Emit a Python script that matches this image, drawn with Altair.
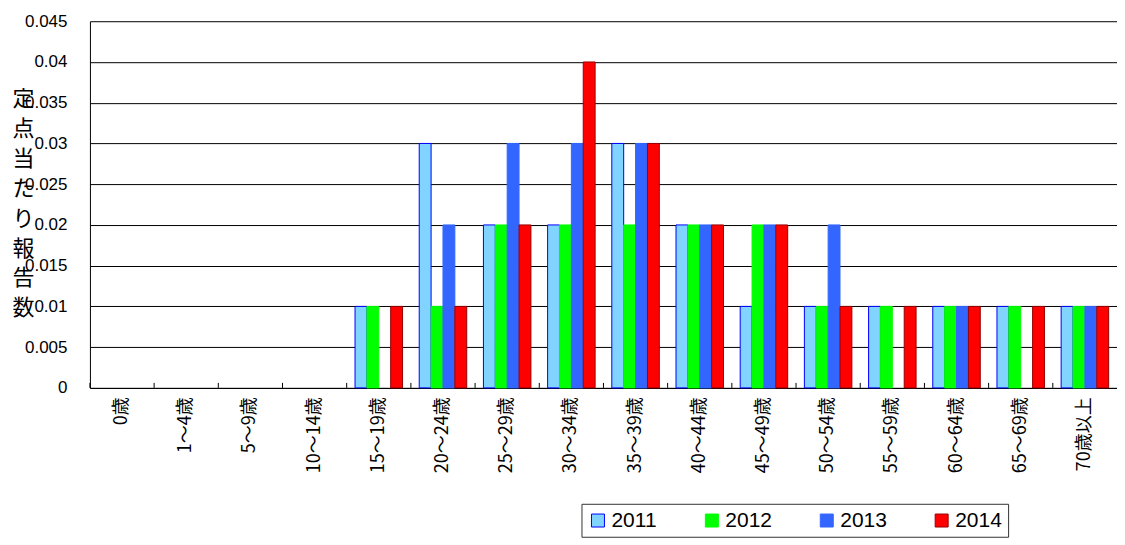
import altair as alt
import pandas as pd

ages = ["0歳", "1～4歳", "5～9歳", "10～14歳", "15～19歳", "20～24歳", "25～29歳", "30～34歳",
        "35～39歳", "40～44歳", "45～49歳", "50～54歳", "55～59歳", "60～64歳", "65～69歳", "70歳以上"]
years = ["2011", "2012", "2013", "2014"]
v2011 = [0, 0, 0, 0, 0.01, 0.03, 0.02, 0.02, 0.03, 0.02, 0.01, 0.01, 0.01, 0.01, 0.01, 0.01]
v2012 = [0, 0, 0, 0, 0.01, 0.01, 0.02, 0.02, 0.02, 0.02, 0.02, 0.01, 0.01, 0.01, 0.01, 0.01]
v2013 = [0, 0, 0, 0, 0, 0.02, 0.03, 0.03, 0.03, 0.02, 0.02, 0.02, 0, 0.01, 0, 0.01]
v2014 = [0, 0, 0, 0, 0.01, 0.01, 0.02, 0.04, 0.03, 0.02, 0.02, 0.01, 0.01, 0.01, 0.01, 0.01]
y_ticks = [0, 0.005, 0.01, 0.015, 0.02, 0.025, 0.03, 0.035, 0.04, 0.045]
y_title = ["定", "点", "当", "た", "り", "報", "告", "数"]

fills = ["#80d4ff", "#00ff00", "#3366ff", "#ff0000"]
strokes = ["#0000ff", "#00ff00", "#3366ff", "#990000"]

rows = []
for yr, vals in zip(years, [v2011, v2012, v2013, v2014]):
    for a, v in zip(ages, vals):
        rows.append({"age": a, "year": yr, "value": v})
df = pd.DataFrame(rows)
df_ages = pd.DataFrame({"age": ages})

W = 1028
H = 367
PI = 0.26
step = W / len(ages)

xscale = alt.Scale(paddingInner=PI, paddingOuter=PI / 2)
xaxis = alt.Axis(labelAngle=270, labelFont="Noto Sans CJK JP", labelFontSize=18,
                 labelColor="black", labelPadding=9, ticks=False,
                 domainColor="black", domainWidth=1, labelOverlap=False, title=None)

bars = alt.Chart(df).transform_filter("datum.value > 0").mark_bar(strokeWidth=1).encode(
    x=alt.X("age:N", sort=ages, scale=xscale, title=None, axis=xaxis),
    xOffset=alt.XOffset("year:N", sort=years, scale=alt.Scale(paddingInner=0, paddingOuter=0)),
    y=alt.Y("value:Q", scale=alt.Scale(domain=[0, 0.045], nice=False),
            axis=alt.Axis(values=y_ticks, format="~g", title=y_title, titleAngle=0,
                          titleAlign="center", titleBaseline="top", titleX=-67, titleY=67,
                          titleFont="Noto Sans CJK JP", titleFontSize=22, titleFontWeight="normal",
                          titleLineHeight=30, titleColor="black",
                          labelFont="Liberation Sans", labelFontSize=17, labelColor="black",
                          labelPadding=23, ticks=False, domainColor="black",
                          gridColor="black", gridWidth=1)),
    fill=alt.Fill("year:N", sort=years, scale=alt.Scale(domain=years, range=fills), title=None),
    stroke=alt.Stroke("year:N", sort=years, scale=alt.Scale(domain=years, range=strokes), title=None),
)

ticks = alt.Chart(df_ages).mark_rule(color="black", strokeWidth=1, xOffset=-step * PI / 2).encode(
    x=alt.X("age:N", sort=ages, bandPosition=0, scale=xscale, title=None, axis=xaxis),
    y=alt.value(H - 5),
    y2=alt.value(H),
)

chart = alt.layer(bars, ticks).properties(
    width=W, height=H, padding={"left": 3, "top": 4, "right": 0, "bottom": 0}
).configure_view(stroke=None).configure_legend(
    orient="none", legendX=492, legendY=483, direction="horizontal",
    strokeColor="#333333", padding=6, columnPadding=44, symbolType="square",
    symbolSize=169, symbolStrokeWidth=1, symbolOpacity=1, labelFont="Liberation Sans",
    labelFontSize=21, labelColor="black", labelOffset=3, fillColor="white"
)

chart.save("out.html", embed_options={"renderer": "svg", "actions": False})
